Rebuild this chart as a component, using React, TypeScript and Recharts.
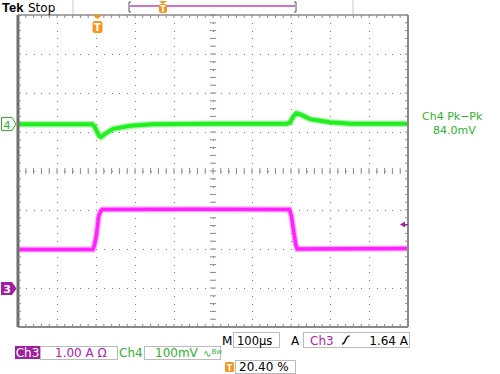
import { ComposedChart, Line, ReferenceLine, XAxis, YAxis } from "recharts";

// Tek scope capture: 100us/div, trigger at 20.40 % of record.
// Ch3 current probe (1.00 A/div), Ch4 voltage (100 mV/div).
const T_DOMAIN: [number, number] = [-204, 796];
const A_DOMAIN: [number, number] = [-1, 7];
const MV_DOMAIN: [number, number] = [-520, 280];

const CH3_T = [-204, -12, -8, -3, 3, 8, 12, 250, 492, 497, 503, 508, 512, 796];
const CH3_A = [0.99, 0.99, 1.1, 1.35, 1.85, 1.97, 2.01, 2.02, 2.01, 1.85, 1.45, 1.12, 1.0, 1.01];

const CH4_T = [-204, -14, -8, -2, 4, 9, 20, 40, 85, 140, 300, 486, 494, 502, 510, 520, 545, 596, 650, 796];
const CH4_MV = [0, 0, -5, -18, -30, -33, -24, -12, -4, 0, 1, 1, 5, 20, 28, 25, 13, 5, 1, 1];

// graticule: 10 x 8 divisions, 5 minor ticks per division
const MAJOR_T = [-104, -4, 96, 196, 296, 396, 496, 596, 696];
const MAJOR_A = [0, 1, 2, 3, 4, 5, 6];
const MINOR_T = Array.from({ length: 51 }, (_, i) => -204 + i * 20);
const MINOR_A = Array.from({ length: 41 }, (_, i) => Math.round((-1 + i * 0.2) * 10) / 10);
const MINOR_MV = Array.from({ length: 41 }, (_, i) => -520 + i * 20);
const CENTER_T = 296;
const CENTER_A = 3;

const ch3 = CH3_T.map((t, i) => ({ t, v: CH3_A[i] }));
const ch4 = CH4_T.map((t, i) => ({ t, v: CH4_MV[i] }));

const GREEN = "#22ee22";
const MAGENTA = "#ff22ff";
const ORANGE = "#f7931e";
const TEXT_GREEN = "#2fb12f";
const TEXT_MAGENTA = "#b020b0";
const GRID = "#7a7a7a";
const TICK = "#8a8a8a";
const FONT = "DejaVu Sans, Verdana, sans-serif";

const empty = () => "";

export default function App() {
  return (
    <div style={{ position: "absolute", left: 0, top: 0, width: 500, height: 374, background: "#fff" }}>
      <ComposedChart
        width={500}
        height={374}
        margin={{ top: 15, right: 92, bottom: 47, left: 18 }}
      >
        <XAxis
          xAxisId="t"
          dataKey="t"
          type="number"
          orientation="top"
          domain={T_DOMAIN}
          allowDataOverflow
          ticks={MINOR_T}
          interval={0}
          mirror
          tickSize={3}
          tickFormatter={empty}
          stroke={TICK}
          axisLine={{ stroke: TICK, strokeWidth: 1.5 }}
        />
        <YAxis
          yAxisId="a"
          type="number"
          orientation="left"
          domain={A_DOMAIN}
          allowDataOverflow
          ticks={MINOR_A}
          interval={0}
          mirror
          tickSize={3}
          tickFormatter={empty}
          stroke={TICK}
          axisLine={{ stroke: "#6e6e6e", strokeWidth: 3 }}
        />
        <YAxis
          yAxisId="mv"
          type="number"
          orientation="right"
          domain={MV_DOMAIN}
          allowDataOverflow
          ticks={MINOR_MV}
          interval={0}
          mirror
          tickSize={3}
          tickFormatter={empty}
          stroke={TICK}
          axisLine={{ stroke: TICK, strokeWidth: 2 }}
        />

        {MAJOR_T.map((t) => (
          <ReferenceLine
            key={`vx${t}`}
            xAxisId="t"
            yAxisId="a"
            x={t}
            stroke={GRID}
            strokeDasharray="1 6.8"
            shapeRendering="crispEdges"
          />
        ))}
        {MAJOR_A.map((a) => (
          <ReferenceLine
            key={`hy${a}`}
            xAxisId="t"
            yAxisId="a"
            y={a}
            stroke={GRID}
            strokeDasharray="1 6.8"
            shapeRendering="crispEdges"
          />
        ))}
        {MINOR_A.map((a) => (
          <ReferenceLine
            key={`cy${a}`}
            xAxisId="t"
            yAxisId="a"
            segment={[
              { x: CENTER_T - 8, y: a },
              { x: CENTER_T + 8, y: a },
            ]}
            stroke={TICK}
            ifOverflow="visible"
          />
        ))}
        {MINOR_T.map((t) => (
          <ReferenceLine
            key={`cx${t}`}
            xAxisId="t"
            yAxisId="a"
            segment={[
              { x: t, y: CENTER_A - 0.08 },
              { x: t, y: CENTER_A + 0.08 },
            ]}
            stroke={TICK}
            ifOverflow="visible"
          />
        ))}
        {/* bottom border with ticks pointing up */}
        {MINOR_T.map((t) => (
          <ReferenceLine
            key={`bx${t}`}
            xAxisId="t"
            yAxisId="a"
            segment={[
              { x: t, y: A_DOMAIN[0] },
              { x: t, y: A_DOMAIN[0] + 0.08 },
            ]}
            stroke={TICK}
            ifOverflow="visible"
          />
        ))}
        <ReferenceLine xAxisId="t" yAxisId="a" y={A_DOMAIN[0]} stroke={TICK} strokeWidth={2} ifOverflow="visible" />

        <Line
          xAxisId="t"
          yAxisId="a"
          data={ch3}
          dataKey="v"
          type="linear"
          stroke={MAGENTA}
          strokeOpacity={0.4}
          strokeWidth={6}
          dot={false}
          isAnimationActive={false}
        />
        <Line
          xAxisId="t"
          yAxisId="a"
          data={ch3}
          dataKey="v"
          type="linear"
          stroke={MAGENTA}
          strokeWidth={3.5}
          dot={false}
          isAnimationActive={false}
        />
        <Line
          xAxisId="t"
          yAxisId="mv"
          data={ch4}
          dataKey="v"
          type="linear"
          stroke={GREEN}
          strokeOpacity={0.4}
          strokeWidth={6.5}
          dot={false}
          isAnimationActive={false}
        />
        <Line
          xAxisId="t"
          yAxisId="mv"
          data={ch4}
          dataKey="v"
          type="linear"
          stroke={GREEN}
          strokeWidth={4}
          dot={false}
          isAnimationActive={false}
        />
      </ComposedChart>

      <svg
        width={500}
        height={374}
        style={{ position: "absolute", left: 0, top: 0, pointerEvents: "none" }}
        fontFamily={FONT}
      >
        {/* status bar */}
        <text x={2} y={12} fontSize={13} fontWeight="bold" fontFamily="Liberation Sans, Arial, sans-serif">
          Tek
        </text>
        <text x={28} y={12} fontSize={12}>
          Stop
        </text>
        <line x1={73} y1={0} x2={73} y2={14} stroke="#c8c8c8" />
        <line x1={353} y1={0} x2={353} y2={14} stroke="#c8c8c8" />
        <path d="M131,2 H129 V12 H131" fill="none" stroke="#555" />
        <path d="M294,2 H296 V12 H294" fill="none" stroke="#555" />
        <line x1={130} y1={6} x2={295} y2={6} stroke="#c040c0" strokeWidth={1.5} />
        <path d="M159,1 H167 L163,4 Z" fill={ORANGE} />
        <rect x={159} y={4} width={8} height={9} rx={2} fill={ORANGE} />
        <text x={163} y={11.5} fontSize={8} fill="#fff" textAnchor="middle" fontWeight="bold">
          T
        </text>

        {/* trigger position marker */}
        <path d="M92.5,15 H102.5 L97.5,19 Z" fill={ORANGE} />
        <rect x={92.5} y={21} width={10} height={12} rx={2.5} fill={ORANGE} />
        <text x={97.5} y={31} fontSize={10} fill="#fff" textAnchor="middle" fontWeight="bold">
          T
        </text>

        {/* channel ground markers */}
        <path d="M1.5,117.5 H12 L16,124 L12,130.5 H1.5 Z" fill="#fff" stroke={TEXT_GREEN} />
        <text x={7} y={128.5} fontSize={11} fill={TEXT_GREEN} textAnchor="middle">
          4
        </text>
        <path d="M1,282 H12 L16.5,288.5 L12,295 H1 Z" fill="#a020a0" />
        <text x={7} y={293} fontSize={11} fill="#fff" textAnchor="middle" fontWeight="bold">
          3
        </text>

        {/* trigger level marker */}
        <path d="M400,224.5 L405,221.5 V227.5 Z" fill="#a020a0" />
        <line x1={405} y1={224.5} x2={408} y2={224.5} stroke="#a020a0" />

        {/* measurement */}
        <text x={422} y={120} fontSize={11} fill={TEXT_GREEN}>
          Ch4 Pk−Pk
        </text>
        <text x={433} y={134} fontSize={11} fill={TEXT_GREEN}>
          84.0mV
        </text>

        {/* bottom readouts, row 1 */}
        <text x={222} y={345} fontSize={12}>
          M
        </text>
        <rect x={233.5} y={332.5} width={46} height={15} fill="none" stroke="#bbb" />
        <text x={237} y={345} fontSize={11.5}>
          100µs
        </text>
        <text x={291} y={345} fontSize={12}>
          A
        </text>
        <rect x={303.5} y={332.5} width={106} height={15} fill="none" stroke="#bbb" />
        <text x={310} y={345} fontSize={12} fill={TEXT_MAGENTA}>
          Ch3
        </text>
        <path d="M342,344 Q344,344 345.5,340 Q347,336 349.5,336" fill="none" stroke="#222" strokeWidth={1.6} />
        <text x={408} y={345} fontSize={12} textAnchor="end">
          1.64 A
        </text>

        {/* row 2 */}
        <rect x={15} y={346} width={25} height={13} fill="#a020a0" />
        <text x={27.5} y={357} fontSize={12} fill="#fff" textAnchor="middle">
          Ch3
        </text>
        <rect x={40.5} y={346.5} width={77} height={13} fill="none" stroke="#bbb" />
        <text x={55} y={357} fontSize={12} fill={TEXT_MAGENTA}>
          1.00 A Ω
        </text>
        <text x={119} y={357} fontSize={12} fill={TEXT_GREEN}>
          Ch4
        </text>
        <rect x={144.5} y={346.5} width={76} height={13} fill="none" stroke="#bbb" />
        <text x={155} y={357} fontSize={12} fill={TEXT_GREEN}>
          100mV
        </text>
        <text x={203} y={357} fontSize={10} fill={TEXT_GREEN}>
          ∿
          <tspan fontSize={7} dy={-3}>
            Bw
          </tspan>
        </text>

        {/* row 3 */}
        <rect x={225} y={362} width={9} height={10} rx={1.5} fill={ORANGE} />
        <text x={229.5} y={370.5} fontSize={8} fill="#fff" textAnchor="middle" fontWeight="bold">
          T
        </text>
        <rect x={235.5} y={360.5} width={60} height={13} fill="none" stroke="#bbb" />
        <text x={239} y={371} fontSize={12}>
          20.40 %
        </text>
      </svg>
    </div>
  );
}
